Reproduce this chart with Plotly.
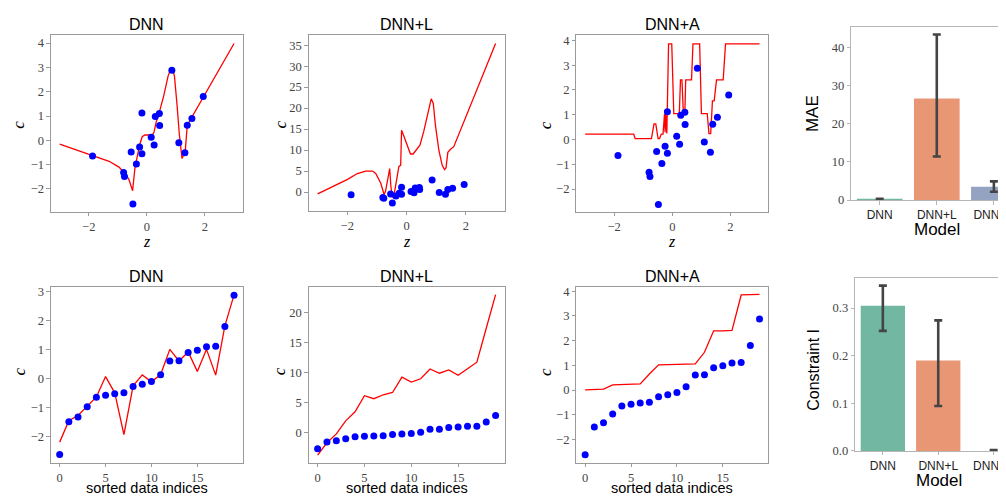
import plotly.graph_objects as go

# ---------------- data ----------------
# observed data points (z, c)
data_z = [-1.87, -0.80, -0.77, -0.54, -0.48, -0.36, -0.25, -0.17, -0.17, 0.15,
          0.25, 0.29, 0.43, 0.44, 0.86, 1.10, 1.31, 1.39, 1.55, 1.94]
data_c = [-0.64, -1.32, -1.49, -0.48, -2.62, -0.97, -0.27, 1.12, -0.55, 0.13,
          -0.19, 0.98, 1.10, 0.61, 2.88, -0.10, -0.51, 0.62, 0.90, 1.80]

# model curves over z in [-3, 3]
dnn_z = [-3.0, -1.85, -1.30, -0.96, -0.73, -0.62, -0.49, -0.41, -0.33, -0.25, -0.16, -0.07,
         0.07, 0.16, 0.25, 0.32, 0.43, 0.58, 0.73, 0.81, 0.89, 0.95, 1.04, 1.12, 1.21,
         1.32, 1.39, 3.0]
dnn_c = [-0.16, -0.63, -0.86, -1.10, -1.40, -1.60, -2.07, -1.13, -0.59, -0.19, 0.15, 0.22,
         0.22, 0.15, 0.35, 0.75, 1.16, 1.83, 2.64, 2.91, 2.91, 2.64, 1.43, 0.22, -0.75,
         -0.46, 0.62, 3.98]

dnnl_z = [-3.0, -1.99, -1.66, -1.38, -1.15, -1.04, -0.87, -0.76, -0.71, -0.62, -0.57, -0.53,
          -0.48, -0.43, -0.34, -0.26, -0.20, -0.17, -0.09, 0.13, 0.22, 0.30, 0.45, 0.58,
          0.72, 0.83, 0.90, 0.97, 1.09, 1.20, 1.28, 1.33, 1.39, 1.48, 1.59, 3.0]
dnnl_c = [-0.46, 3.0, 4.4, 5.0, 5.0, 4.4, 2.1, -0.6, 0.15, 3.6, 5.6, 1.3,
          -1.24, -1.0, 2.5, 6.1, 6.35, 14.7, 13.3, 9.06, 9.06, 9.84, 11.15, 14.5,
          18.4, 22.2, 21.1, 16.0, 9.84, 6.35, 5.34, 5.8, 9.45, 10.2, 10.8, 35.4]

dnna_z = [-3.0, -1.33, -1.28, -0.72, -0.63, -0.57, -0.49, -0.44, -0.38, -0.32, -0.27, -0.25,
          -0.23, -0.19, -0.13, -0.02, 0.05, 0.24, 0.28, 0.33, 0.38, 0.43, 0.46, 0.66,
          0.71, 0.94, 1.00, 1.20, 1.26, 1.32, 1.38, 1.44, 1.52, 1.75, 1.83, 3.0]
dnna_c = [0.22, 0.22, 0.04, 0.04, 0.63, 0.63, 0.04, 0.04, 0.22, 0.22, 1.03, 0.30,
          1.03, 0.24, 3.86, 3.86, 1.05, 1.05, 2.41, 2.41, 1.05, 1.05, 2.41, 2.41,
          3.86, 3.86, 1.05, 1.05, 0.24, 0.24, 1.56, 1.56, 2.41, 2.41, 3.86, 3.86]

# sorted data and predictions at sorted data indices
sorted_idx = list(range(20))
sorted_c = [-2.62, -1.49, -1.32, -0.97, -0.64, -0.57, -0.52, -0.49, -0.27, -0.19,
            -0.10, 0.13, 0.61, 0.62, 0.90, 0.98, 1.10, 1.12, 1.80, 2.88]
pred_dnn = [-2.19, -1.45, -1.27, -0.94, -0.63, 0.07, -0.49, -1.93, -0.25, 0.13,
            -0.11, 0.14, 1.01, 0.61, 0.92, 0.25, 1.01, 0.12, 1.82, 2.89]
pred_dnnl = [-3.69, -1.63, -0.16, 2.01, 3.52, 6.18, 5.69, 6.34, 6.72, 9.27,
             8.46, 9.0, 10.62, 9.92, 10.46, 9.59, 10.68, 11.76, 17.4, 22.98]
pred_dnna = [0.01, 0.03, 0.04, 0.21, 0.22, 0.24, 0.25, 0.65, 1.02, 1.03,
             1.04, 1.06, 1.06, 1.53, 2.40, 2.40, 2.42, 3.85, 3.86, 3.87]

# summary bars
models = ["DNN", "DNN+L", "DNN+A"]
mae_mean = [0.20, 26.6, 3.52]
mae_hi = [0.35, 43.35, 4.90]
mae_lo = [0.00, 11.4, 2.20]
con_mean = [0.305, 0.190, 0.0]
con_hi = [0.347, 0.274, 0.002]
con_lo = [0.252, 0.0945, 0.0]
bar_colors = ["#71b7a1", "#e99675", "#95a3c3"]

# ---------------- layout helpers ----------------
W, H = 1006, 496


def fx(px):
    return px / W


def fy(py):
    return 1 - py / H


SERIF = "Liberation Serif, DejaVu Serif, serif"
SANS = "Liberation Sans, Arial, sans-serif"
FRAME = "#9a9a9a"
TICKC = "#444444"

fig = go.Figure()

# panel frames in pixels: (x0, x1, y0_top, y1_bottom)
panels = {
    1: (43, 235, 25, 205),
    2: (301, 497, 25, 204),
    3: (569, 761, 25, 205),
    4: (844, 1006, 16, 193),
    5: (43, 235, 282, 461),
    6: (301, 497, 282, 461),
    7: (569, 761, 282, 461),
    8: (848, 1006, 272, 449),
}

layout = dict(
    width=W, height=H, margin=dict(l=0, r=0, t=0, b=0),
    paper_bgcolor="white", plot_bgcolor="white", showlegend=False,
    bargap=0.2,
)


def axis_common(is_bar=False):
    return dict(
        showline=True, linecolor="#b5b5b5" if is_bar else FRAME, linewidth=1,
        showgrid=False, zeroline=False, ticks="outside", ticklen=3.5,
        tickcolor="#b5b5b5" if is_bar else FRAME, tickwidth=1,
        tickfont=dict(family=SERIF, size=12.5, color=TICKC),
    )


for k, (x0, x1, y0, y1) in panels.items():
    xa = "xaxis" if k == 1 else f"xaxis{k}"
    ya = "yaxis" if k == 1 else f"yaxis{k}"
    is_bar = k in (4, 8)
    xd = axis_common(is_bar)
    yd = axis_common(is_bar)
    xd.update(domain=[fx(x0), min(1.0, fx(x1))], anchor="y" if k == 1 else f"y{k}")
    yd.update(domain=[fy(y1), fy(y0)], anchor="x" if k == 1 else f"x{k}")
    xd.update(mirror=True)
    yd.update(mirror=not is_bar)
    layout[xa] = xd
    layout[ya] = yd

# ranges and ticks
layout["xaxis"].update(range=[-3.3, 3.3], tickvals=[-2, 0, 2])
layout["yaxis"].update(range=[-2.94, 4.31], dtick=1)
layout["xaxis2"].update(range=[-3.3, 3.3], tickvals=[-2, 0, 2])
layout["yaxis2"].update(range=[-4.5, 37.3], dtick=5)
layout["xaxis3"].update(range=[-3.3, 3.3], tickvals=[-2, 0, 2])
layout["yaxis3"].update(range=[-2.92, 4.2], dtick=1)
layout["xaxis5"].update(range=[-0.95, 19.95], dtick=5)
layout["yaxis5"].update(range=[-2.9, 3.15], dtick=1)
layout["xaxis6"].update(range=[-0.95, 19.95], dtick=5)
layout["yaxis6"].update(range=[-4.95, 24.2], tickvals=[0, 5, 10, 15, 20])
layout["xaxis7"].update(range=[-0.95, 19.95], dtick=5)
layout["yaxis7"].update(range=[-2.94, 4.16], dtick=1)

layout["xaxis4"].update(type="category", range=[-0.5, 2.335],
                        tickfont=dict(family=SANS, size=12, color="#222"))
layout["yaxis4"].update(range=[0, 45.4], tickvals=[0, 10, 20, 30, 40])
layout["xaxis8"].update(type="category", range=[-0.5, 2.35],
                        tickfont=dict(family=SANS, size=12, color="#222"))
layout["yaxis8"].update(range=[0, 0.364], tickvals=[0.0, 0.1, 0.2, 0.3], tickformat=".1f")

fig.update_layout(**layout)


def ax(k):
    return ("x", "y") if k == 1 else (f"x{k}", f"y{k}")


LINE = dict(color="red", width=1.3)
MARK = dict(color="blue", size=7)

# top row: curves and data
for k, (cz, cc) in zip((1, 2, 3), ((dnn_z, dnn_c), (dnnl_z, dnnl_c), (dnna_z, dnna_c))):
    xr, yr = ax(k)
    fig.add_trace(go.Scatter(x=cz, y=cc, mode="lines", line=LINE, xaxis=xr, yaxis=yr))
    fig.add_trace(go.Scatter(x=data_z, y=data_c, mode="markers", marker=MARK,
                             xaxis=xr, yaxis=yr))

# bottom row: predictions at sorted indices
for k, pred in zip((5, 6, 7), (pred_dnn, pred_dnnl, pred_dnna)):
    xr, yr = ax(k)
    fig.add_trace(go.Scatter(x=sorted_idx, y=pred, mode="lines", line=LINE, xaxis=xr, yaxis=yr))
    fig.add_trace(go.Scatter(x=sorted_idx, y=sorted_c, mode="markers", marker=MARK,
                             xaxis=xr, yaxis=yr))

# bar panels
for k, mean, hi, lo in ((4, mae_mean, mae_hi, mae_lo), (8, con_mean, con_hi, con_lo)):
    xr, yr = ax(k)
    fig.add_trace(go.Bar(
        x=models, y=mean, marker=dict(color=bar_colors, line=dict(width=0)),
        error_y=dict(type="data", symmetric=False,
                     array=[h - m for h, m in zip(hi, mean)],
                     arrayminus=[m - l for m, l in zip(mean, lo)],
                     color="#444444", thickness=2.6, width=4),
        xaxis=xr, yaxis=yr))

# text annotations (titles and axis labels)
ann = []


def add_text(text, px, py, size, family, angle=0, color="black"):
    ann.append(dict(text=text, x=fx(px), y=fy(py), xref="paper", yref="paper",
                    showarrow=False, xanchor="center", yanchor="middle", textangle=angle,
                    font=dict(family=family, size=size, color=color)))


for (txt, cx) in (("DNN", 139), ("DNN+L", 399), ("DNN+A", 665)):
    add_text(txt, cx, 14, 16, SANS)
    add_text(txt, cx, 271, 16, SANS)

for cx in (139, 399, 665):
    add_text("<i>z</i>", cx, 235, 16, SERIF)
    add_text("sorted data indices", cx, 486.5, 14.5, SANS)

for (cx, cy) in ((11, 116), (273, 116), (538, 116), (12, 368), (272, 368), (538, 368)):
    add_text("<i>c</i>", cx, cy, 17, SERIF, angle=-90)

add_text("MAE", 806, 105, 17, SANS, angle=-90)
add_text("Model", 930, 223, 17, SANS)
add_text("Constraint I", 806, 366, 16, SANS, angle=-90)
add_text("Model", 932, 479, 17, SANS)

fig.update_layout(annotations=ann)

fig.write_html("out.html")
